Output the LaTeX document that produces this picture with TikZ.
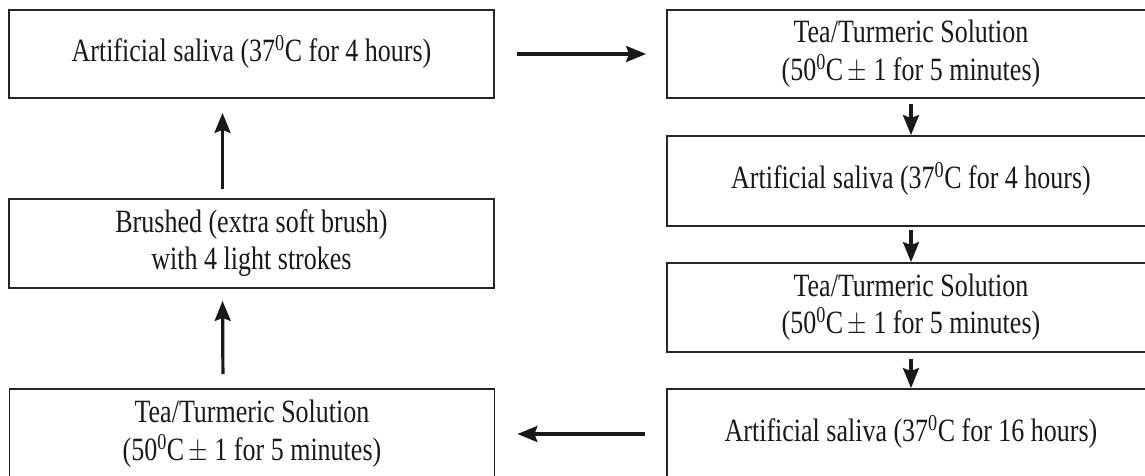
\documentclass[tikz,border=0pt]{standalone}
\usepackage{fontspec}
\setmainfont{Liberation Serif}
\usetikzlibrary{arrows.meta}
\newcommand\stxt[1]{\scalebox{1}[1.25]{\begin{tabular}{@{}c@{}}#1\end{tabular}}}
\newcommand\pmsign{\,$\pm$}
\begin{document}
\begin{tikzpicture}[x=1pt,y=-1pt,
  box/.style={draw=black!85,line width=1.8pt,inner sep=0pt,
    font=\fontsize{26}{30}\selectfont,text=black!90},
  lbox/.style={box,minimum width=485pt},
  rbox/.style={box,minimum width=488pt},
  arr/.style={line width=3.2pt,draw=black!90,
    -{Stealth[length=20pt,width=16pt,inset=3pt]}}]
\useasboundingbox (0,0) rectangle (1145,475);
\clip (0,0) rectangle (1145,475);
\node[lbox,minimum height=88pt] (L1) at (251.5,54)
  {\stxt{Artificial saliva (37\textsuperscript{0}C for 4 hours)}};
\node[lbox,minimum height=89pt] (L2) at (251.5,243.5)
  {\stxt{Brushed (extra soft brush)\\with 4 light strokes}};
\node[lbox,minimum height=90pt] (L3) at (252,434)
  {\stxt{Tea/Turmeric Solution\\(50\textsuperscript{0}C\pmsign{} 1 for 5 minutes)}};
\node[rbox,minimum height=88pt] (R1) at (911,54)
  {\stxt{Tea/Turmeric Solution\\(50\textsuperscript{0}C\pmsign{} 1 for 5 minutes)}};
\node[rbox,minimum height=90pt] (R2) at (911,181)
  {\stxt{Artificial saliva (37\textsuperscript{0}C for 4 hours)}};
\node[rbox,minimum height=89pt] (R3) at (911,307.5)
  {\stxt{Tea/Turmeric Solution\\(50\textsuperscript{0}C\pmsign{} 1 for 5 minutes)}};
\node[rbox,minimum height=90pt] (R4) at (911,434)
  {\stxt{Artificial saliva (37\textsuperscript{0}C for 16 hours)}};
\draw[arr,shorten <=22pt,shorten >=20pt] (L1.east) -- (R1.west);
\draw[arr,shorten <=5pt] (R1) -- (R2);
\draw[arr,shorten <=3pt] (R2) -- (R3);
\draw[arr,shorten <=6pt] (R3) -- (R4);
\draw[arr,shorten <=21pt,shorten >=22pt] (R4.west) -- (L3.east);
\draw[arr,shorten <=14pt,shorten >=12pt] ([xshift=-29pt]L3.north) -- ([xshift=-29pt]L2.south);
\draw[arr,shorten <=9pt,shorten >=14pt] ([xshift=-29pt]L2.north) -- ([xshift=-29pt]L1.south);
\end{tikzpicture}
\end{document}
